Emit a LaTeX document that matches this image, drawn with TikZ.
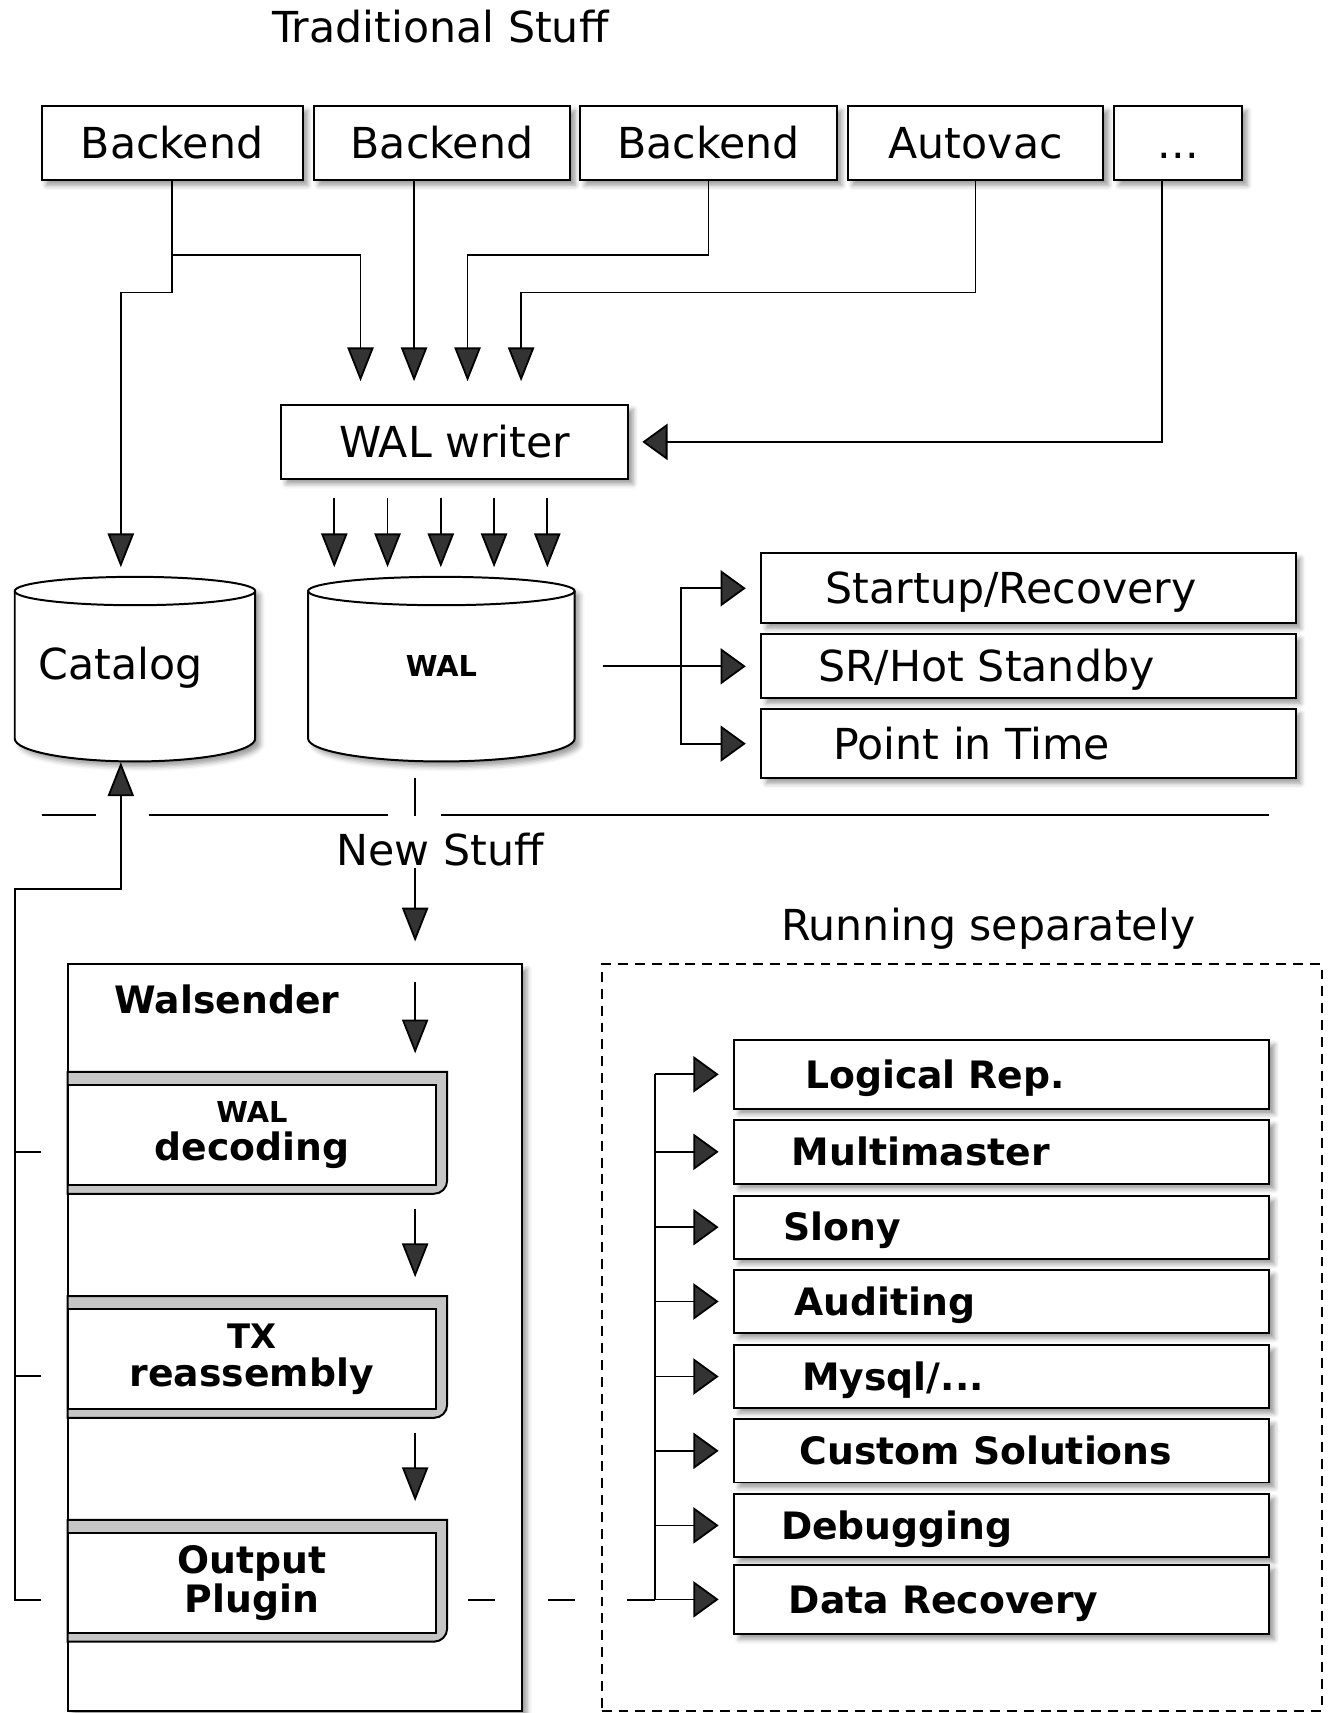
\documentclass[tikz,border=0pt]{standalone}
\usepackage{fontspec}
\setmainfont{DejaVu Sans}
\usetikzlibrary{arrows.meta, shadows.blur}

\newlength{\px}
\setlength{\px}{0.55pt}

\tikzset{
  oldtxt/.style={font=\fontsize{21.5}{24}\selectfont, text height=15.7pt, text depth=0pt},
  newtxt/.style={font=\fontsize{19}{19.5}\selectfont\bfseries, text height=13.9pt, text depth=0pt},
  softshadow/.style={blur shadow={shadow xshift=2.5pt, shadow yshift=-2.5pt, shadow blur radius=2.5pt, shadow opacity=40}},
  procbox/.style={draw, fill=white, line width=1pt, inner sep=0pt, softshadow},
  stagebox/.style={draw, fill=white, line width=1pt, inner sep=0pt, minimum width=337*\px,
    minimum height=91.5*\px, align=center, font=\fontsize{19}{19.5}\selectfont\bfseries},
  stageframe/.style={draw, fill=gray!45, line width=1pt},
  drum/.style={draw, fill=white, line width=1pt, softshadow},
  varrow/.style={-{Triangle[length=17pt, width=13.2pt]}},
  harrow/.style={-{Triangle[length=12.7pt, width=18.2pt]}},
  oldpad/.style 2 args={label={[oldtxt, anchor=west, inner sep=0pt, xshift=#1*\px]west:#2}},
  newpad/.style 2 args={label={[newtxt, anchor=west, inner sep=0pt, xshift=#1*\px]west:#2}},
}

\begin{document}
\begin{tikzpicture}[x=0.55pt, y=-0.55pt, line width=0.9pt]
  \useasboundingbox (0,0) rectangle (1218,1568);

  % traditional stuff
  \node[oldtxt] (trad) at (403,25) {Traditional Stuff};
  \node[procbox, oldtxt, minimum width=239*\px, minimum height=68*\px] (be1) at (157.5,131) {Backend};
  \node[procbox, oldtxt, minimum width=235*\px, minimum height=68*\px] (be2) at (404.5,131) {Backend};
  \node[procbox, oldtxt, minimum width=235*\px, minimum height=68*\px] (be3) at (648.5,131) {Backend};
  \node[procbox, oldtxt, minimum width=234*\px, minimum height=68*\px] (autovac) at (893,131) {Autovac};
  \node[procbox, oldtxt, minimum width=117*\px, minimum height=68*\px] (more) at (1078.5,131) {...};
  \node[procbox, oldtxt, minimum width=317.5*\px, minimum height=67.7*\px] (writer) at (416.25,404.5) {WAL writer};

  % bend heights, writer inputs
  \coordinate (lvA) at (0,233.4);
  \coordinate (lvB) at (0,267.8);
  \foreach \n/\x in {1/330,2/379,3/428,4/477}
    \coordinate (in\n) at (\x,370.6);

  % the two drums
  \foreach \xl/\xr in {13.5/233.6, 282/526} {
    \pgfmathsetmacro\cylr{(\xr-\xl)/2}
    \draw[drum] (\xl,541) -- (\xl,676) arc[start angle=180, end angle=0, x radius=\cylr, y radius=21]
      -- (\xr,541) arc[start angle=0, end angle=-180, x radius=\cylr, y radius=13] -- cycle;
    \draw[line width=1pt] (\xl,541) arc[start angle=180, end angle=0, x radius=\cylr, y radius=13];
  }
  \node[oldtxt, minimum width=190*\px, minimum height=169*\px] (catalog) at (110.6,608) {Catalog};
  \node[font=\fontsize{14.5}{15}\selectfont\bfseries, text height=10.6pt, text depth=0pt,
    minimum width=244*\px, minimum height=169*\px] (wal) at (404,610) {WAL};

  % consumers of the WAL
  \node[procbox, minimum width=489*\px, minimum height=64*\px, oldpad={59}{Startup/Recovery}] (startup) at (941.5,538.5) {};
  \node[procbox, minimum width=489*\px, minimum height=58.6*\px, oldpad={52}{SR/Hot Standby}] (hotsb) at (941.5,609.9) {};
  \node[procbox, minimum width=489*\px, minimum height=63.4*\px, oldpad={66}{Point in Time}] (pitr) at (941.5,680.7) {};

  \draw[varrow, shorten >=11.9pt] (be1.south) |- (in1 |- lvA) -- (in1);
  \draw[varrow, shorten >=1.9pt] (be1.south) |- (catalog.north |- lvB) -- (catalog.north);
  \draw[varrow, shorten >=11.9pt] (be2.south -| in2) -- (in2);
  \draw[varrow, shorten >=11.9pt] (be3.south) |- (in3 |- lvA) -- (in3);
  \draw[varrow, shorten >=11.9pt] (autovac.south) |- (in4 |- lvB) -- (in4);
  \draw[harrow, shorten >=6.6pt] ([xshift=-8pt]more.south) |- (writer.east);
  \foreach \x in {306,354.75,403.5,452.25,501} {
    \coordinate (drop) at (\x,0);
    \draw[varrow, shorten <=8.9pt, shorten >=3pt] (writer.south -| drop) -- (wal.north -| drop);
  }

  \coordinate (wbus) at (623.7,609.9);
  \draw[harrow, shorten <=13.6pt, shorten >=7.4pt] (wal.east |- hotsb.west) -- (hotsb.west);
  \draw[harrow, shorten >=7.4pt] (wbus) |- (startup.west);
  \draw[harrow, shorten >=7.4pt] (wbus) |- (pitr.west);

  % divider
  \draw (38,746) -- (88,746) (136,746) -- (355,746) (404,746) -- (1162,746);

  % new stuff
  \coordinate (tap) at (380,0);
  \draw[shorten <=9.1pt] (wal.south -| tap) -- ++(0,52);
  \node[oldtxt, inner sep=0.1em] (news) at (403,778) {New Stuff};
  \node[draw, fill=white, line width=1pt, softshadow, minimum width=415.9*\px, minimum height=683.3*\px,
    label={[newtxt, anchor=west, inner sep=0pt, xshift=43*\px, yshift=-33.3*\px]north west:Walsender}]
    (walsender) at (269.95,1224.35) {};
  \draw[varrow, shorten >=11pt] (news.south -| tap) -- (walsender.north -| tap);

  % decoding stages
  \foreach \nm/\cy/\txt in {dec/1039/{{\fontsize{14.5}{15}\selectfont WAL}\\decoding},
      tx/1244.1/{{\fontsize{17}{17}\selectfont TX}\\reassembly}, plugin/1449/{Output\\Plugin}} {
    \draw[stageframe] (62,\cy-57.8) -- (409.3,\cy-57.8) -- (409.3,\cy+41.7)
      arc[start angle=0, end angle=90, radius=12] -- (62,\cy+53.7) -- cycle;
    \node[stagebox] (\nm) at (230.5,\cy) {\txt};
  }
  \draw[varrow, shorten <=9.6pt, shorten >=15.5pt] (walsender.north -| tap) -- (dec.north -| tap);
  \draw[varrow, shorten <=11.3pt, shorten >=15.6pt] (dec.south -| tap) -- (tx.north -| tap);
  \draw[varrow, shorten <=11.3pt, shorten >=15.6pt] (tx.south -| tap) -- (plugin.north -| tap);

  % catalog lookups
  \coordinate (lbus) at (13.5,813.6);
  \draw[shorten <=12.8pt] ([yshift=-15.2*\px]dec.west) -- ([yshift=-15.2*\px]dec.west -| lbus);
  \draw[shorten <=12.8pt] ([yshift=-15.2*\px]tx.west) -- ([yshift=-15.2*\px]tx.west -| lbus);
  \draw[varrow, shorten <=12.8pt] ([yshift=-15.2*\px]plugin.west) -| (lbus) -| ([yshift=-4.5*\px]catalog.south);

  % running separately
  \node[oldtxt] (runsep) at (904.5,847) {Running separately};
  \node[draw, dash pattern=on 5pt off 3.5pt, minimum width=659.3*\px, minimum height=683.6*\px]
    (sepbox) at (880.35,1224.5) {};
  \coordinate (rbus) at (599.5,0);
  \foreach \nm/\cy/\h/\pad/\txt in {logrep/983.4/63/65/{Logical Rep.}, multim/1054.3/58.5/53/Multimaster,
      slony/1123.3/58/45/Slony, audit/1191.3/58/55/Auditing, mysql/1260/58/62.5/{Mysql/...},
      custom/1328/58/60/{Custom Solutions}, debug/1396.3/58/43/Debugging, datarec/1464/63.5/50/{Data Recovery}} {
    \node[procbox, minimum width=490*\px, minimum height=\h*\px, newpad={\pad}{\txt}] (\nm) at (917,\cy) {};
    \draw[harrow, shorten >=7.3pt] (\nm.west -| rbus) -- (\nm.west);
  }
  \draw (logrep.west -| rbus) -- (datarec.west -| rbus);
  \draw[dash pattern=on 13.75pt off 26.4pt, dash phase=24.5pt] ([yshift=-15.2*\px]plugin.east) -- ([yshift=-15.2*\px]plugin.east -| rbus);
\end{tikzpicture}
\end{document}
